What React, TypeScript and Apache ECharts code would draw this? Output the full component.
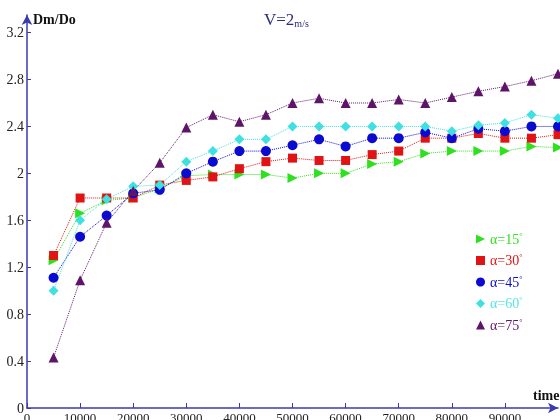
import React, { useEffect, useRef } from "react";
import * as echarts from "echarts";

const times = [5000, 10000, 15000, 20000, 25000, 30000, 35000, 40000, 45000, 50000, 55000, 60000, 65000, 70000, 75000, 80000, 85000, 90000, 95000, 100000];
const alpha15 = [1.26, 1.66, 1.77, 1.79, 1.87, 1.98, 1.99, 1.99, 1.99, 1.96, 2.0, 2.0, 2.08, 2.1, 2.17, 2.19, 2.19, 2.19, 2.23, 2.22];
const alpha30 = [1.3, 1.79, 1.79, 1.79, 1.9, 1.94, 1.97, 2.04, 2.1, 2.13, 2.11, 2.11, 2.16, 2.19, 2.3, 2.3, 2.34, 2.3, 2.3, 2.33];
const alpha45 = [1.11, 1.46, 1.64, 1.83, 1.86, 2.0, 2.1, 2.19, 2.19, 2.24, 2.29, 2.23, 2.3, 2.3, 2.35, 2.3, 2.38, 2.36, 2.4, 2.4];
const alpha60 = [1.0, 1.6, 1.78, 1.89, 1.9, 2.1, 2.19, 2.29, 2.29, 2.4, 2.4, 2.4, 2.4, 2.4, 2.4, 2.36, 2.41, 2.43, 2.5, 2.47];
const alpha75 = [0.43, 1.09, 1.58, 1.85, 2.09, 2.39, 2.5, 2.44, 2.5, 2.6, 2.64, 2.6, 2.6, 2.63, 2.6, 2.65, 2.7, 2.74, 2.79, 2.85];
const yTicks = [0, 0.4, 0.8, 1.2, 1.6, 2, 2.4, 2.8, 3.2];
const xTicks = [0, 10000, 20000, 30000, 40000, 50000, 60000, 70000, 80000, 90000];
const seriesNames = ["α=15", "α=30", "α=45", "α=60", "α=75"];

const SERIF = "'Liberation Serif', 'DejaVu Serif', serif";
const AXIS_COLOR = "#3a3ab0";

export default function App() {
  const ref = useRef<HTMLDivElement>(null);
  useEffect(() => {
    document.body.style.margin = "0";
    document.body.style.overflow = "hidden";
    if (!ref.current) return;
    const chart = echarts.init(ref.current, undefined, { renderer: "svg" });
    const defs = [
      { data: alpha15, color: "#2ee01e", text: "#2ee01e", symbol: "path://M0,0L10,5L0,10Z", size: 10 },
      { data: alpha30, color: "#e01414", text: "#e01414", symbol: "rect", size: 9 },
      { data: alpha45, color: "#0a0ad0", text: "#0a0ad0", symbol: "circle", size: 10 },
      { data: alpha60, color: "#3fe0e0", text: "#55e3e3", symbol: "diamond", size: 10 },
      { data: alpha75, color: "#5e1468", text: "#5e1468", symbol: "triangle", size: 10 },
    ];
    chart.setOption({
      animation: false,
      textStyle: { fontFamily: SERIF },
      title: {
        text: "{a|V=2}{b|m/s}",
        left: 259,
        top: 6,
        textStyle: {
          fontWeight: "normal",
          rich: {
            a: { fontFamily: SERIF, fontSize: 17, fontWeight: "normal", color: "#2c2c80" },
            b: { fontFamily: SERIF, fontSize: 10, fontWeight: "normal", color: "#2c2c80", verticalAlign: "bottom", padding: [6, 0, 0, 0] },
          },
        },
      },
      legend: {
        orient: "vertical",
        left: 471,
        top: 227,
        itemWidth: 9,
        itemHeight: 9,
        itemGap: 7.5,
        data: defs.map((d, i) => ({
          name: seriesNames[i],
          icon: d.symbol,
          textStyle: {
            color: d.text,
            rich: {
              a: { fontFamily: SERIF, fontSize: 14, color: d.text },
              s: { fontFamily: SERIF, fontSize: 8, color: d.text, verticalAlign: "top", padding: [0, 0, 6, 0] },
            },
          },
        })),
        formatter: (name: string) => `{a|${name}}{s|°}`,
        itemStyle: { borderWidth: 0 },
      },
      grid: { left: 27, right: 2, top: 15, bottom: 12, containLabel: false, outerBoundsMode: "none" },
      xAxis: {
        type: "value",
        min: 0,
        max: 100000,
        interval: 10000,
        axisLine: { lineStyle: { color: AXIS_COLOR, width: 1.5 }, symbol: ["none", "arrow"], symbolSize: [8, 10] },
        axisTick: { inside: true, length: 5, lineStyle: { color: AXIS_COLOR }, customValues: xTicks },
        axisLabel: { customValues: xTicks, color: "#222", fontSize: 13, fontFamily: SERIF, margin: 3, formatter: (v: number) => String(v) },
        splitLine: { show: false },
      },
      yAxis: {
        type: "value",
        min: 0,
        max: 3.35,
        axisLine: { show: true, lineStyle: { color: AXIS_COLOR, width: 1.5 }, symbol: ["none", "arrow"], symbolSize: [8, 10] },
        axisTick: { show: true, inside: true, length: 4, lineStyle: { color: AXIS_COLOR }, customValues: yTicks },
        axisLabel: { customValues: yTicks, color: "#222", fontSize: 14, fontFamily: SERIF, margin: 3, formatter: (v: number) => String(Math.round(v * 10) / 10) },
        splitLine: { show: false },
      },
      graphic: [
        { type: "text", left: 33, top: 12, style: { text: "Dm/Do", font: `bold 14px ${SERIF}`, fill: "#111" } },
        { type: "text", left: 533, top: 388, style: { text: "time", font: `bold 14px ${SERIF}`, fill: "#111" } },
      ],
      series: defs.map((d, i) => ({
        name: seriesNames[i],
        type: "line",
        data: times.map((t, j) => [t, d.data[j]]),
        symbol: d.symbol,
        symbolSize: d.size,
        showAllSymbol: true,
        itemStyle: { color: d.color },
        lineStyle: { color: d.color, width: 1, type: "dotted" },
        clip: false,
      })),
    });
    return () => chart.dispose();
  }, []);
  return <div ref={ref} style={{ position: "fixed", left: 0, top: 0, width: 560, height: 420 }} />;
}
